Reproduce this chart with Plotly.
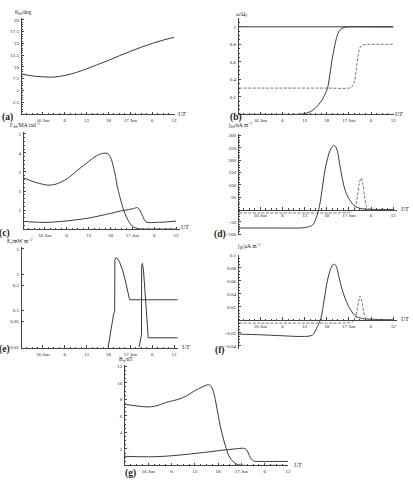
import numpy as np
import plotly.graph_objects as go

W, H = 413, 480

# ---------------- data (hours relative to 16 Jun 00 UT) ----------------
xt_vals = [0, 6, 12, 18, 24, 30, 36]
xt_text = ["16 Jun", "6", "12", "18", "17 Jun", "6", "12"]

# (a)
a_ut = [-5.8, -3, 0, 3, 6, 9, 12, 15, 18, 21, 24, 27, 30, 33, 36]
a_theta = [8.5, 8.1, 7.9, 7.85, 8.2, 8.8, 9.6, 10.5, 11.4, 12.4, 13.3, 14.2, 15.0, 15.7, 16.3]

# (b)
b_ut1 = [-5.8, 36]
b_one = [1, 1]
b_ut2 = [-5.8, 0, 6, 10, 12, 13.5, 15, 16.5, 17.3, 18.2, 19, 19.5, 20.4, 21, 21.7, 23, 24, 30, 36]
b_omega2 = [0, 0, 0, 0, 0.008, 0.03, 0.075, 0.15, 0.21, 0.3, 0.5, 0.64, 0.83, 0.92, 0.97, 0.995, 1, 1, 1]
b_ut3 = [-5.8, 0, 6, 12, 18, 24, 24.7, 25.4, 25.8, 26.1, 26.5, 26.8, 27.3, 28, 30, 36]
b_omega3 = [0.3, 0.3, 0.3, 0.3, 0.3, 0.3, 0.31, 0.36, 0.45, 0.55, 0.67, 0.74, 0.78, 0.795, 0.8, 0.8]

# (c)
c_ut1 = [-5.8, -3, 0, 1.2, 3, 6.2, 9, 10.7, 13, 14.4, 15.5, 16.6, 17.4, 18, 18.5, 18.9,
         19.4, 19.8, 20.7, 21.6, 22.3, 23, 23.7, 24.4, 25.3, 26.2, 30, 36]
c_I1 = [2.69, 2.48, 2.33, 2.31, 2.36, 2.66, 3.1, 3.35, 3.7, 3.87, 3.96, 3.99, 3.94, 3.78, 3.5, 3.18,
        2.75, 2.31, 1.6, 1.0, 0.68, 0.4, 0.22, 0.1, 0.04, 0.01, 0, 0]
c_ut2 = [-5.8, -3, 0, 3, 6.2, 9, 11.8, 15.3, 18, 20.7, 23, 24.4, 25.3, 26.2, 26.9, 27.6, 28.5, 30, 33, 36]
c_I2 = [0.40, 0.37, 0.35, 0.38, 0.43, 0.5, 0.57, 0.71, 0.82, 0.95, 1.03, 1.08, 1.13, 0.95, 0.66, 0.4,
        0.34, 0.35, 0.37, 0.42]

# (d)
d_ut1 = [-5.8, 0, 6, 10, 11.5, 13, 14.2, 15.1, 16, 16.9, 17.5, 18.2, 19.1, 20, 20.7, 21.4,
         22.2, 23.1, 24.5, 25.8, 27.6, 30, 36]
d_j1 = [-75, -75, -75, -75, -74, -70, -62, -35, 12, 99, 160, 206, 246, 260, 245, 193,
        126, 72, 32, 12, 3, 1, 0]
d_ut2 = [-5.8, 0, 6, 12, 18, 22, 24, 25, 25.8, 26.3, 26.8, 27.3, 27.8, 28.3, 28.8, 29.5, 31, 36]
d_j2 = [-14, -14, -14, -14, -14, -13, -11, -5, 15, 55, 105, 128, 100, 45, 12, 2, 0, 0]

# (e)  (energy flux, plotted on a logarithmic scale)
e_ut1 = [17.9, 18.7, 19.4, 19.7, 19.75, 20.0, 20.5, 21.0, 21.8, 22.5, 23.2, 23.8, 37]
e_E1 = [0.01, 0.035, 0.08, 0.1, 2.5, 2.85, 2.7, 2.2, 1.37, 0.75, 0.39, 0.2, 0.2]
e_ut2 = [26.4, 26.8, 27.05, 27.1, 27.3, 27.6, 28.0, 28.4, 28.9, 37]
e_E2 = [0.01, 0.016, 0.022, 1.6, 2.0, 1.3, 0.45, 0.1, 0.018, 0.018]
e_ticks = [0.01, 0.05, 0.1, 0.5, 1, 5]

# (f)
f_ut1 = [-5.8, 0, 6, 10, 12, 13.2, 14.2, 15.5, 16.4, 17.3, 18.2, 19.1, 19.8, 20.4, 21.3,
         22.2, 23.1, 24.5, 25.8, 27.6, 30, 36]
f_j1 = [-0.022, -0.023, -0.0245, -0.0255, -0.0255, -0.025, -0.023, -0.010, 0.0025, 0.031,
        0.061, 0.079, 0.0855, 0.084, 0.066, 0.046, 0.031, 0.015, 0.006, 0.002, 0.001, 0]
f_ut2 = [-5.8, 0, 6, 12, 18, 22, 24, 25, 25.6, 26.1, 26.6, 27.0, 27.5, 28.0, 28.5, 29.2, 31, 36]
f_j2 = [-0.005, -0.005, -0.005, -0.005, -0.005, -0.005, -0.0045, -0.003, 0.002, 0.012,
        0.027, 0.0366, 0.028, 0.012, 0.003, 0.0005, 0, 0]

# (g)
g_ut1 = [-6, -3, -0.3, 2, 4.4, 8.7, 12.9, 15.5, 16.0, 16.8, 17.7, 18.5, 19.8, 21.1, 22.8, 24.9, 30, 36]
g_B1 = [7.4, 7.2, 7.08, 7.2, 7.6, 8.16, 9.28, 9.76, 9.68, 8.9, 6.9, 4.9, 2.5, 0.9, 0.16, 0, 0, 0]
g_ut2 = [-6, -3, 0, 4, 8.7, 13, 16, 19, 21.5, 23.5, 24.5, 25.2, 25.8, 26.3, 26.8, 27.4, 28.5, 32, 36]
g_B2 = [1.1, 1.06, 1.04, 1.1, 1.28, 1.5, 1.66, 1.84, 1.96, 2.05, 2.08, 1.95, 1.5, 0.95, 0.65, 0.5,
        0.48, 0.48, 0.48]

# ---------------- figure ----------------
def fx(p):
    return p / W

def fy(p):
    return 1 - p / H

def fmt(v):
    return ("%g" % v).replace("-", "−")

FONT = "Liberation Serif"
TICKFONT = dict(family=FONT, size=5, color="#222")
LINE = dict(color="#3a3a3a", width=1)
DASH = dict(color="#666", width=0.9, dash="3px,1.5px")
AX = "#444"

fig = go.Figure()

lg = np.log10
panels = {
    1: dict(xp=(22, 176.1), yp=(16.6, 113), xr=[-5.8, 36.2], yr=[0, 20.3],
            yt=[2.5, 5, 7.5, 10, 12.5, 15, 17.5, 20], ym=0.5, xpos=None),
    2: dict(xp=(240.7, 396.8), yp=(16.2, 113.3), xr=[-5.8, 36.2], yr=[0, 1.1],
            yt=[0.2, 0.4, 0.6, 0.8, 1], ym=0.05, xpos=None),
    3: dict(xp=(24, 181), yp=(131.1, 229), xr=[-5.8, 37], yr=[0, 5.1],
            yt=[1, 2, 3, 4, 5], ym=0.2, xpos=None),
    4: dict(xp=(240.7, 399.8), yp=(133.4, 235.4), xr=[-5.8, 37], yr=[-105, 305],
            yt=[-100, -50, 50, 100, 150, 200, 250, 300], ym=10, xpos=209.3),
    5: dict(xp=(22, 179), yp=(247.5, 348.7), xr=[-5.8, 37], yr=[-2.02, 0.74],
            yt=list(lg(e_ticks)), ytext=[fmt(v) for v in e_ticks], ym=None, xpos=None),
    6: dict(xp=(240.7, 399.8), yp=(255, 350), xr=[-5.8, 37], yr=[-0.045, 0.1],
            yt=[-0.04, -0.02, 0.02, 0.04, 0.06, 0.08, 0.1], ym=0.005, xpos=320.5),
    7: dict(xp=(126, 290), yp=(365.7, 467.3), xr=[-6, 36], yr=[0, 12.2],
            yt=[2, 4, 6, 8, 10, 12], ym=0.5, xpos=None),
}

series = {
    1: [(a_ut, a_theta, LINE, "spline")],
    2: [(b_ut1, b_one, LINE, "linear"), (b_ut2, b_omega2, LINE, "spline"),
        (b_ut3, b_omega3, DASH, "spline")],
    3: [(c_ut1, c_I1, LINE, "spline"), (c_ut2, c_I2, LINE, "spline")],
    4: [(d_ut1, d_j1, LINE, "spline"), (d_ut2, d_j2, DASH, "spline")],
    5: [(e_ut1, lg(e_E1), LINE, "linear"), (e_ut2, lg(e_E2), LINE, "linear")],
    6: [(f_ut1, f_j1, LINE, "spline"), (f_ut2, f_j2, DASH, "spline")],
    7: [(g_ut1, g_B1, LINE, "spline"), (g_ut2, g_B2, LINE, "spline")],
}

layout = dict(width=W, height=H, margin=dict(l=0, r=0, t=0, b=0),
              paper_bgcolor="white", plot_bgcolor="rgba(0,0,0,0)", showlegend=False)

for i, p in panels.items():
    sfx = "" if i == 1 else str(i)
    xa = dict(domain=[fx(p["xp"][0]), fx(p["xp"][1])], range=p["xr"],
              tickmode="array", tickvals=xt_vals, ticktext=xt_text,
              ticks="inside", ticklen=2.5, tickwidth=0.6, tickcolor=AX,
              showline=True, linecolor=AX, linewidth=0.8, showgrid=False, zeroline=False,
              tickfont=TICKFONT, ticklabelstandoff=1, ticklabeloverflow="allow",
              minor=dict(ticks="inside", ticklen=1.2, tickwidth=0.5, tickcolor=AX,
                         tick0=0, dtick=1.5, showgrid=False),
              anchor="y" + sfx)
    if p["xpos"] is not None:
        xa["anchor"] = "free"
        xa["position"] = fy(p["xpos"])
    ya = dict(domain=[fy(p["yp"][1]), fy(p["yp"][0])], range=p["yr"],
              tickmode="array", tickvals=p["yt"],
              ticktext=p.get("ytext", [fmt(v) for v in p["yt"]]),
              ticks="inside", ticklen=2.5, tickwidth=0.6, tickcolor=AX,
              showline=True, linecolor=AX, linewidth=0.8, showgrid=False, zeroline=False,
              tickfont=TICKFONT, ticklabelstandoff=1, ticklabeloverflow="allow",
              anchor="x" + sfx)
    if p["ym"] is not None:
        ya["minor"] = dict(ticks="inside", ticklen=1.2, tickwidth=0.5, tickcolor=AX,
                           tick0=0, dtick=p["ym"], showgrid=False)
    layout["xaxis" + sfx] = xa
    layout["yaxis" + sfx] = ya
    for (xs, ys, ln, shape) in series[i]:
        fig.add_trace(go.Scatter(x=xs, y=ys, mode="lines", line=dict(**ln, shape=shape),
                                 xaxis="x" + sfx, yaxis="y" + sfx, hoverinfo="skip"))

ann = []

def text(x, y, s, size, xanchor="center", **kw):
    ann.append(dict(x=fx(x), y=fy(y), xref="paper", yref="paper", text=s, showarrow=False,
                    xanchor=xanchor, yanchor="middle",
                    font=dict(family=FONT, size=size, color="#222"), **kw))

# axis titles
text(13, 11, "θ<sub>Sd</sub>/deg", 5.5, "left")
text(236, 13, "ω/Ω<sub>F</sub>", 5.5, "left")
text(8, 125, "Γ<sub>Sd</sub>/MA rad<sup>−1</sup>", 5.5, "left")
text(228, 125, "j<sub>Sd</sub>/nA m<sup>−2</sup>", 5.5, "left")
text(5, 242, "E<sub>f</sub>/mW m<sup>−2</sup>", 5.5, "left")
text(237, 247, "j<sub>∥i</sub>/μA m<sup>−2</sup>", 5.5, "left")
text(118, 360, "B<sub>φ</sub>/nT", 5.5, "left")

# UT labels
for (x, y) in [(183, 113), (402, 113), (186, 227), (408, 209), (187, 348), (408, 320), (300, 467)]:
    text(x, y, "<i>UT</i>", 6)

# panel labels
for (x, y, s) in [(8, 116, "(a)"), (238, 116, "(b)"), (5, 233, "(c)"), (222, 234, "(d)"),
                  (5, 350, "(e)"), (222, 351, "(f)"), (131, 475, "(g)")]:
    text(x, y, "<b>" + s + "</b>", 9.5)

layout["annotations"] = ann
fig.update_layout(**layout)
fig.write_html("out.html")
